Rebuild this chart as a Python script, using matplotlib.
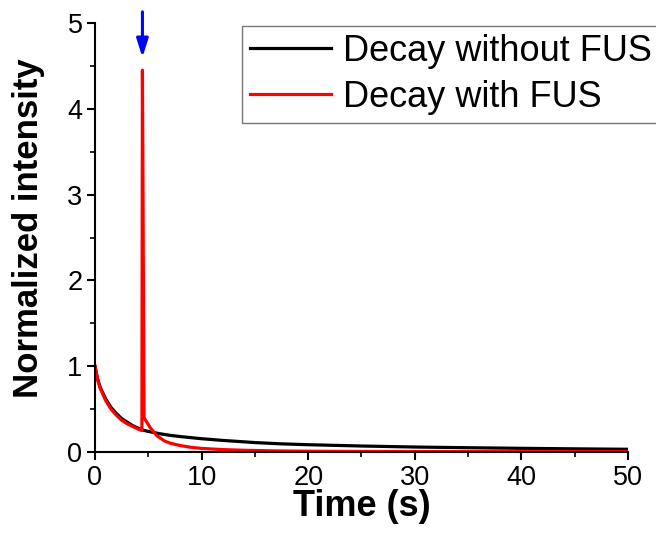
import matplotlib
matplotlib.use("Agg")
import matplotlib.pyplot as plt
from matplotlib.ticker import MultipleLocator

plt.rcParams['font.family'] = ['Liberation Sans', 'DejaVu Sans']

# decay without FUS
t_nofus = [0, 0.25, 0.5, 1, 1.5, 2, 2.5, 3, 3.5, 4, 4.5, 5, 6, 7, 8, 10, 12, 15,
           17.5, 20, 25, 30, 35, 40, 45, 50]
i_nofus = [1.0, 0.85, 0.75, 0.62, 0.52, 0.45, 0.39, 0.35, 0.31, 0.28, 0.255, 0.24,
           0.215, 0.195, 0.18, 0.155, 0.135, 0.11, 0.095, 0.085, 0.07, 0.058, 0.05,
           0.043, 0.037, 0.032]

# decay with FUS, spike when FUS switched on
t_fus = [0, 0.25, 0.5, 1, 1.5, 2, 2.5, 3, 3.5, 4, 4.4, 4.45, 4.6, 4.8, 5.2, 5.8,
         6.5, 7, 8, 9, 10, 12, 14, 17, 20, 25, 30, 40, 50]
i_fus = [1.0, 0.84, 0.74, 0.6, 0.5, 0.43, 0.37, 0.33, 0.30, 0.27, 0.25, 4.45, 0.40,
         0.36, 0.28, 0.19, 0.13, 0.105, 0.075, 0.055, 0.042, 0.028, 0.02, 0.013,
         0.009, 0.006, 0.005, 0.004, 0.004]

fus_on = 4.45

fig = plt.figure(figsize=(6.56, 5.36), dpi=100)
ax = fig.add_axes([0.1448, 0.1567, 0.8125, 0.8003])

ax.plot(t_nofus, i_nofus, color='black', lw=2.3, label='Decay without FUS')
ax.plot(t_fus, i_fus, color='red', lw=2.3, label='Decay with FUS')

# arrow marking when FUS is applied
ax.annotate('', xy=(fus_on, 4.6), xytext=(fus_on, 5.13),
            arrowprops=dict(arrowstyle='-|>,head_width=0.35,head_length=1.1',
                            color='blue', lw=2.2, shrinkA=0, shrinkB=0),
            annotation_clip=False)

ax.set_xlim(0, 50)
ax.set_ylim(0, 5)
ax.xaxis.set_major_locator(MultipleLocator(10))
ax.xaxis.set_minor_locator(MultipleLocator(5))
ax.yaxis.set_major_locator(MultipleLocator(1))
ax.yaxis.set_minor_locator(MultipleLocator(0.5))
for s in ['top', 'right']:
    ax.spines[s].set_visible(False)
for s in ['left', 'bottom']:
    ax.spines[s].set_linewidth(1.5)
ax.tick_params(which='major', direction='out', length=6, width=1.5, labelsize=19.5, pad=3)
ax.tick_params(which='minor', direction='out', length=3.5, width=1.2)

ax.set_xlabel('Time (s)', fontsize=26, fontweight='bold', labelpad=-1)
ax.set_ylabel('Normalized intensity', fontsize=25, fontweight='bold')
ax.yaxis.set_label_coords(-0.094, 0.522)

leg = ax.legend(loc='upper left', bbox_to_anchor=(242 / 656, 1 - 26 / 536),
                bbox_transform=fig.transFigure, fontsize=26, fancybox=False,
                handlelength=2.25, handletextpad=0.33, borderpad=0.22,
                labelspacing=0.3, borderaxespad=0)
leg.get_frame().set_edgecolor('#555555')
leg.get_frame().set_linewidth(1.0)

fig.savefig('out.png', dpi=100)
